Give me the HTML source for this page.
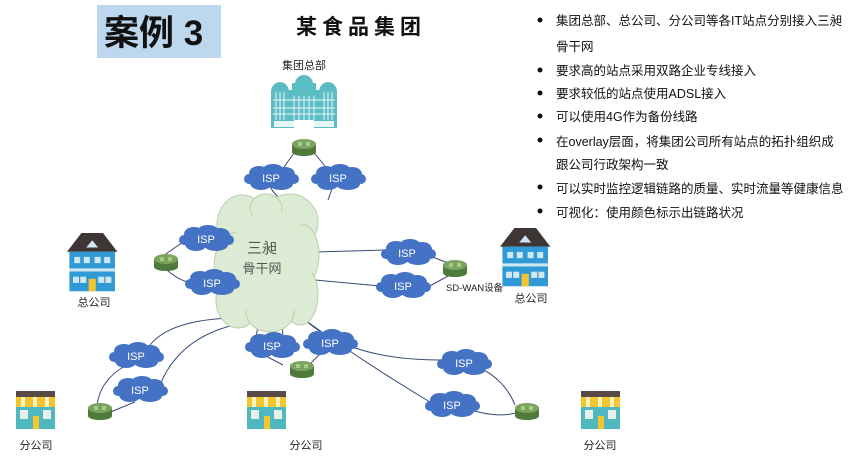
<!DOCTYPE html>
<html><head><meta charset="utf-8"><style>
body{margin:0;background:#fff;width:864px;height:457px;overflow:hidden}
svg{display:block;font-family:"Liberation Sans","Noto Sans CJK SC",sans-serif}
</style></head><body>
<svg width="864" height="457" viewBox="0 0 864 457" xmlns="http://www.w3.org/2000/svg">
<defs>
<g id="cl">
<ellipse cx="0" cy="0" rx="24" ry="9" fill="#4472c4"/>
<ellipse cx="-12" cy="-5" rx="10" ry="7" fill="#4472c4"/>
<ellipse cx="2" cy="-7" rx="11" ry="7" fill="#4472c4"/>
<ellipse cx="14" cy="-4" rx="10" ry="7" fill="#4472c4"/>
<ellipse cx="-10" cy="5" rx="11" ry="7" fill="#4472c4"/>
<ellipse cx="10" cy="6" rx="12" ry="6" fill="#4472c4"/>
<ellipse cx="-22" cy="1" rx="5" ry="5" fill="#4472c4"/>
<ellipse cx="23" cy="1" rx="5" ry="5" fill="#4472c4"/>
</g>
<g id="rt">
<rect x="-12" y="-2" width="24" height="8" fill="#4e7a3c"/>
<ellipse cx="0" cy="6" rx="12" ry="4" fill="#4e7a3c"/>
<ellipse cx="0" cy="-2" rx="12" ry="5" fill="#7aa35e"/>
<path d="M-6-3h4M2-1h4M-6-1h4M2-3h4" stroke="#d8f0b0" stroke-width="1"/>
</g>
<g id="shop">
<rect x="0" y="0" width="39" height="6" fill="#5a4a45"/>
<rect x="0" y="6" width="39" height="10" fill="#f5c431"/>
<rect x="5" y="6" width="4" height="10" fill="#fff3c0"/><rect x="17" y="6" width="4" height="10" fill="#fff3c0"/><rect x="29" y="6" width="4" height="10" fill="#fff3c0"/>
<rect x="0" y="16" width="39" height="22" fill="#4fb8bf"/>
<rect x="4" y="19" width="8" height="9" fill="#e8eee8"/><rect x="27" y="19" width="8" height="9" fill="#e8eee8"/>
<rect x="17" y="25" width="6" height="13" fill="#f5c431"/>
</g>
<g id="bld">
<path d="M0 18 L12 0 H30 L42 18 Z" fill="#3e3535"/>
<path d="M16 14 L21 7 L26 14 Z" fill="#cfe7f0"/>
<rect x="2" y="18" width="38" height="38" fill="#2f9ad6"/>
<rect x="2" y="34" width="38" height="3" fill="#cfe7f0"/>
<g fill="#cfe7f0"><rect x="6" y="23" width="5" height="6"/><rect x="14" y="23" width="5" height="6"/><rect x="23" y="23" width="5" height="6"/><rect x="31" y="23" width="5" height="6"/>
<rect x="5" y="42" width="5" height="6"/><rect x="11" y="42" width="5" height="6"/><rect x="26" y="42" width="5" height="6"/><rect x="32" y="42" width="5" height="6"/></g>
<rect x="18" y="44" width="6" height="12" fill="#f5c431"/>
</g>
</defs>

<rect x="97" y="5" width="124" height="53" fill="#bdd7ee"/>
<text x="104" y="45" font-size="35" font-weight="bold" fill="#111">案例 3</text>
<text x="296" y="34" font-size="21" font-weight="bold" fill="#111" letter-spacing="5">某食品集团</text>
<text x="282" y="69" font-size="11" fill="#222">集团总部</text>

<!-- HQ building -->
<g>
<rect x="271" y="90" width="66" height="38" fill="#5bbcc4"/>
<ellipse cx="280" cy="92" rx="9" ry="10" fill="#5bbcc4"/>
<ellipse cx="328" cy="92" rx="9" ry="10" fill="#5bbcc4"/>
<ellipse cx="304" cy="84" rx="9" ry="9" fill="#5bbcc4"/>
<rect x="292" y="83" width="24" height="10" fill="#5bbcc4"/>
<g stroke="#e8f6f6" stroke-width="1">
<path d="M276 92V120M280 92V120M284 92V120M324 92V120M328 92V120M332 92V120M294 96V120M299 96V120M304 96V120M309 96V120M314 96V120"/>
<path d="M273 100H335M273 108H335M273 114H335"/>
</g>
<rect x="274" y="121" width="60" height="6" fill="#e8f6f6"/>
<rect x="294" y="120" width="20" height="8" fill="#fff"/>
</g>

<!-- lines -->
<g stroke="#3a4a78" stroke-width="1" fill="none">
<path d="M296 150 L282 170"/><path d="M312 150 L328 170"/>
<path d="M270 186 Q275 198 290 203"/><path d="M333 186 L328 200"/>
<path d="M160 258 L186 240"/><path d="M162 266 Q180 282 190 282"/>
<path d="M228 243 L255 252"/><path d="M235 284 L258 280"/>
<path d="M315 252 L385 250"/><path d="M315 280 L380 286"/>
<path d="M430 256 L448 263"/><path d="M428 287 L448 276"/>
<path d="M232 318 Q170 320 150 345"/><path d="M243 323 Q180 335 160 385"/>
<path d="M125 366 Q100 380 97 406"/><path d="M108 413 L135 402"/>
<path d="M258 325 L256 338"/><path d="M282 325 L283 335"/>
<path d="M262 354 L283 365"/><path d="M322 352 L310 364"/>
<path d="M295 310 Q340 360 440 360"/><path d="M298 315 Q360 360 430 402"/>
<path d="M480 368 Q505 380 515 405"/><path d="M470 410 Q500 418 515 413"/>
</g>

<!-- backbone cloud -->
<g fill="#dcebd3" stroke="#b9d1aa" stroke-width="1">
<ellipse cx="242" cy="225" rx="25" ry="30"/><ellipse cx="290" cy="222" rx="28" ry="28"/>
<ellipse cx="303" cy="255" rx="16" ry="30"/><ellipse cx="300" cy="295" rx="18" ry="30"/>
<ellipse cx="234" cy="268" rx="20" ry="35"/><ellipse cx="238" cy="300" rx="22" ry="28"/>
<ellipse cx="270" cy="312" rx="24" ry="20"/><ellipse cx="266" cy="208" rx="16" ry="14"/>
</g>
<g fill="#dcebd3"><ellipse cx="270" cy="265" rx="42" ry="55"/></g>
<text x="262" y="253" font-size="15" fill="#555" text-anchor="middle">三昶</text>
<text x="262" y="273" font-size="13" fill="#555" text-anchor="middle">骨干网</text>

<!-- clouds -->
<g font-size="11" fill="#fff" text-anchor="middle">
<use href="#cl" x="271" y="178"/><text x="271" y="182">ISP</text>
<use href="#cl" x="338" y="178"/><text x="338" y="182">ISP</text>
<use href="#cl" x="206" y="239"/><text x="206" y="243">ISP</text>
<use href="#cl" x="212" y="283"/><text x="212" y="287">ISP</text>
<use href="#cl" x="408" y="253"/><text x="407" y="257">ISP</text>
<use href="#cl" x="403" y="286"/><text x="403" y="290">ISP</text>
<use href="#cl" x="272" y="346"/><text x="272" y="350">ISP</text>
<use href="#cl" x="330" y="343"/><text x="330" y="347">ISP</text>
<use href="#cl" x="136" y="356"/><text x="136" y="360">ISP</text>
<use href="#cl" x="140" y="390"/><text x="140" y="394">ISP</text>
<use href="#cl" x="464" y="363"/><text x="464" y="367">ISP</text>
<use href="#cl" x="452" y="405"/><text x="452" y="409">ISP</text>
</g>

<!-- routers -->
<use href="#rt" x="304" y="146"/>
<use href="#rt" x="166" y="261"/>
<use href="#rt" x="455" y="267"/>
<use href="#rt" x="302" y="368"/>
<use href="#rt" x="100" y="410"/>
<use href="#rt" x="527" y="410"/>

<!-- buildings -->
<use href="#bld" transform="translate(67,233) scale(1.2,1.04)"/>
<use href="#bld" transform="translate(500,228) scale(1.2,1.04)"/>
<text x="94" y="306" font-size="11" fill="#222" text-anchor="middle">总公司</text>
<text x="531" y="302" font-size="11" fill="#222" text-anchor="middle">总公司</text>
<text x="446" y="291" font-size="9.5" fill="#222">SD-WAN设备</text>

<use href="#shop" x="16" y="391"/>
<use href="#shop" x="247" y="391"/>
<use href="#shop" x="581" y="391"/>
<text x="36" y="449" font-size="11" fill="#222" text-anchor="middle">分公司</text>
<text x="306" y="449" font-size="11" fill="#222" text-anchor="middle">分公司</text>
<text x="600" y="449" font-size="11" fill="#222" text-anchor="middle">分公司</text>

<!-- bullets -->
<g font-size="12.5" fill="#111">
<g fill="#111"><circle cx="540" cy="20" r="2.5"/><circle cx="540" cy="70" r="2.5"/><circle cx="540" cy="93" r="2.5"/><circle cx="540" cy="116" r="2.5"/><circle cx="540" cy="140" r="2.5"/><circle cx="540" cy="187" r="2.5"/><circle cx="540" cy="211" r="2.5"/></g>
<text x="556" y="25">集团总部、总公司、分公司等各IT站点分别接入三昶</text>
<text x="556" y="51">骨干网</text>
<text x="556" y="75">要求高的站点采用双路企业专线接入</text>
<text x="556" y="98">要求较低的站点使用ADSL接入</text>
<text x="556" y="121">可以使用4G作为备份线路</text>
<text x="556" y="146">在overlay层面，将集团公司所有站点的拓扑组织成</text>
<text x="556" y="169">跟公司行政架构一致</text>
<text x="556" y="193">可以实时监控逻辑链路的质量、实时流量等健康信息</text>
<text x="556" y="217">可视化：使用颜色标示出链路状况</text>
</g>
</svg>
</body></html>
